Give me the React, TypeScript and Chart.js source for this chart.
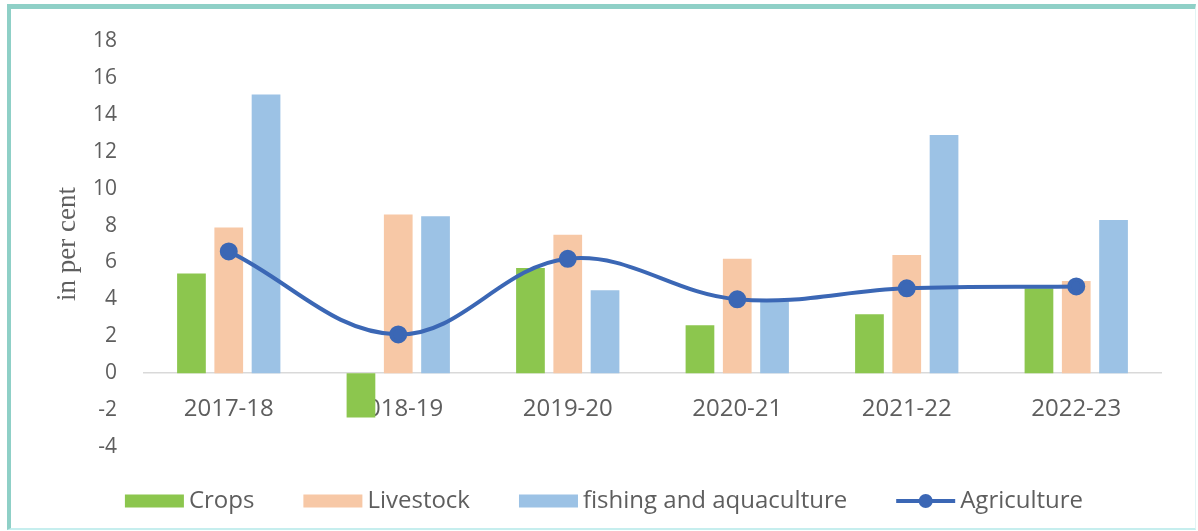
import React, { useEffect, useRef } from "react";
import { Chart, registerables } from "chart.js";

Chart.register(...registerables);

const categories = ["2017-18", "2018-19", "2019-20", "2020-21", "2021-22", "2022-23"];
const crops = [5.4, -2.4, 5.7, 2.6, 3.2, 4.6];
const livestock = [7.9, 8.6, 7.5, 6.2, 6.4, 5.0];
const fishing = [15.1, 8.5, 4.5, 3.9, 12.9, 8.3];
const agriculture = [6.6, 2.1, 6.2, 4.0, 4.6, 4.7];
const yTicks = [-4, -2, 0, 2, 4, 6, 8, 10, 12, 14, 16, 18];

const GREEN = "#8cc64e";
const PEACH = "#f7c8a6";
const BLUE = "#9cc2e5";
const LINE = "#3b67b5";
const TEXT = "#5e5e5e";
const SANS = "'Open Sans', sans-serif";

const LEGEND_FONT = "24px 'Open Sans', sans-serif";
const LEGEND_BOX_W = 59;
const LEGEND_BOX_H = 13;
const LEGEND_TEXT_GAP = 5;
const LEGEND_ITEM_GAP = 49;

const customLegend = {
  id: "customLegend",
  afterDraw(chart: any) {
    const ctx = chart.ctx;
    const datasets = chart.data.datasets;
    ctx.save();
    ctx.font = LEGEND_FONT;
    const widths = datasets.map((d: any) => LEGEND_BOX_W + LEGEND_TEXT_GAP + ctx.measureText(d.label).width);
    const total = widths.reduce((a: number, b: number) => a + b, 0) + LEGEND_ITEM_GAP * (datasets.length - 1);
    let x = chart.width / 2 + 5 - total / 2;
    const cy = chart.height - 30;
    datasets.forEach((d: any, i: number) => {
      if (d.type === "line") {
        ctx.strokeStyle = d.borderColor;
        ctx.lineWidth = 4;
        ctx.beginPath();
        ctx.moveTo(x, cy);
        ctx.lineTo(x + LEGEND_BOX_W, cy);
        ctx.stroke();
        ctx.fillStyle = d.borderColor;
        ctx.beginPath();
        ctx.arc(x + LEGEND_BOX_W / 2, cy, 7, 0, Math.PI * 2);
        ctx.fill();
      } else {
        ctx.fillStyle = d.backgroundColor;
        ctx.fillRect(x, cy - LEGEND_BOX_H / 2, LEGEND_BOX_W, LEGEND_BOX_H);
      }
      ctx.fillStyle = TEXT;
      ctx.textAlign = "left";
      ctx.textBaseline = "middle";
      ctx.fillText(d.label, x + LEGEND_BOX_W + LEGEND_TEXT_GAP, cy);
      x += widths[i] + LEGEND_ITEM_GAP;
    });
    ctx.restore();
  },
};

export default function App() {
  const ref = useRef<HTMLCanvasElement | null>(null);

  useEffect(() => {
    if (!ref.current) return;
    const barCommon = { borderWidth: 0, order: 1, categoryPercentage: 0.66, barPercentage: 0.77 };
    const chart = new Chart(ref.current, {
      type: "bar",
      data: {
        labels: categories,
        datasets: [
          { type: "bar", label: "Crops", data: crops, backgroundColor: GREEN, ...barCommon },
          { type: "bar", label: "Livestock", data: livestock, backgroundColor: PEACH, ...barCommon },
          { type: "bar", label: "fishing and aquaculture", data: fishing, backgroundColor: BLUE, ...barCommon },
          {
            type: "line",
            label: "Agriculture",
            data: agriculture,
            borderColor: LINE,
            backgroundColor: LINE,
            borderWidth: 4,
            pointRadius: 7,
            pointBackgroundColor: LINE,
            pointBorderColor: LINE,
            tension: 0.38,
            fill: false,
            order: 0,
          } as any,
        ],
      },
      options: {
        animation: false,
        responsive: true,
        maintainAspectRatio: false,
        layout: { padding: { top: 41, right: 37, bottom: 84, left: 0 } },
        plugins: {
          tooltip: { enabled: false },
          legend: { display: false },
        },
        scales: {
          x: {
            type: "category",
            position: { y: 0 } as any,
            offset: true,
            grid: { display: false, drawTicks: false },
            border: { display: true, color: "#d9d9d9", width: 1.5 },
            ticks: { color: TEXT, font: { family: SANS, size: 24 }, padding: 22, maxRotation: 0 },
          },
          y: {
            min: -4,
            max: 18,
            afterBuildTicks: (scale: any) => {
              scale.ticks = yTicks.map((v) => ({ value: v }));
            },
            afterFit: (scale: any) => {
              scale.width = 144;
            },
            grid: { display: false, drawTicks: false },
            border: { display: false },
            ticks: { color: TEXT, font: { family: SANS, size: 21 }, padding: 27 },
            title: {
              display: true,
              text: "in per cent",
              color: TEXT,
              font: { family: "'Liberation Serif', serif", size: 27 },
              padding: { top: 52, bottom: 0 },
            },
          },
        },
      },
      plugins: [customLegend],
    });
    return () => chart.destroy();
  }, []);

  return (
    <div style={{ position: "absolute", left: 0, top: 0, width: 1198, height: 531, background: "#ffffff" }}>
      <div
        style={{
          position: "absolute",
          left: 7,
          top: 4,
          right: 2,
          bottom: 1,
          borderTop: "5px solid #8fd0c7",
          borderLeft: "4px solid #8fd0c7",
          borderBottom: "2px solid #c6eeee",
          borderRight: "1px solid #e3f5f5",
        }}
      />
      <div style={{ position: "absolute", left: 0, top: 0, width: 1198, height: 531 }}>
        <canvas ref={ref} />
      </div>
    </div>
  );
}
